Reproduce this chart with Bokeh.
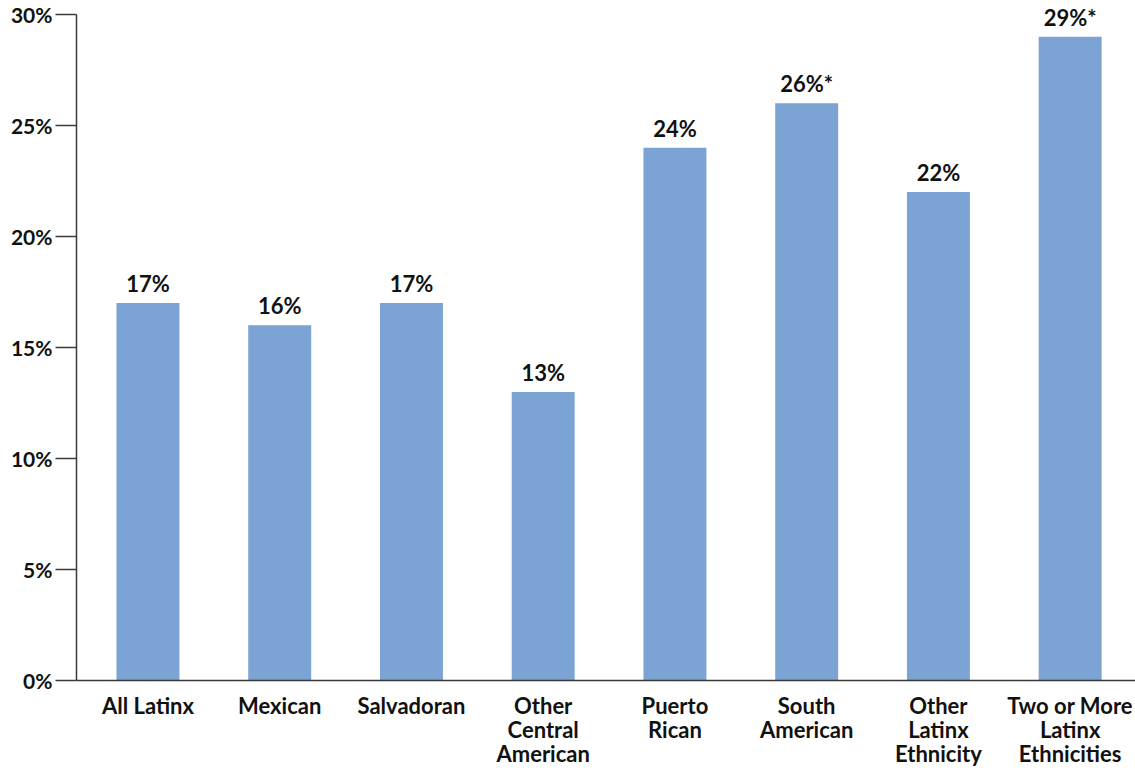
from bokeh.plotting import figure
from bokeh.models import Range1d, FixedTicker, LabelSet, ColumnDataSource
from bokeh.core.properties import value
from bokeh.embed import file_html
from bokeh.resources import INLINE

categories = ["All Latinx", "Mexican", "Salvadoran", "Other\nCentral\nAmerican",
              "Puerto\nRican", "South\nAmerican", "Other\nLatinx\nEthnicity",
              "Two or More\nLatinx\nEthnicities"]
values = [17, 16, 17, 13, 24, 26, 22, 29]
value_labels = ["17%", "16%", "17%", "13%", "24%", "26%*", "22%", "29%*"]
y_ticks = [0, 5, 10, 15, 20, 25, 30]
y_tick_labels = ["0%", "5%", "10%", "15%", "20%", "25%", "30%"]

FONT = "Lato"
BAR_COLOR = "#7BA3D4"
TEXT_COLOR = "#111111"
AXIS_COLOR = "#3a3a3a"

W, H = 1135, 770
p = figure(width=W, height=H, output_backend="svg", toolbar_location=None,
           x_range=Range1d(-0.5425, 7.496), y_range=Range1d(0, 30.63),
           min_border_left=76, min_border_right=0, min_border_top=0,
           min_border_bottom=90)
p.outline_line_color = None
p.xgrid.visible = False
p.ygrid.visible = False
p.background_fill_color = "white"
p.border_fill_color = "white"

idx = list(range(len(categories)))
src = ColumnDataSource(dict(x=idx, top=values, lab=value_labels))
p.vbar(x="x", top="top", bottom=0, width=0.478, source=src,
       fill_color=BAR_COLOR, line_color=None)

# y axis
ya = p.yaxis[0]
ya.bounds = (y_ticks[0], y_ticks[-1])
ya.ticker = FixedTicker(ticks=y_ticks)
ya.major_label_overrides = {t: l for t, l in zip(y_ticks, y_tick_labels)}
ya.major_tick_out = 21
ya.major_tick_in = 0
ya.minor_tick_line_color = None
ya.major_tick_line_width = 1.5
ya.major_tick_line_color = AXIS_COLOR
ya.axis_line_color = AXIS_COLOR
ya.axis_line_width = 1.5
ya.major_label_standoff = 3
ya.major_label_text_font = FONT
ya.major_label_text_font_size = "21px"
ya.major_label_text_font_style = "bold"
ya.major_label_text_color = TEXT_COLOR

# x axis with category labels
xa = p.xaxis[0]
xa.ticker = FixedTicker(ticks=idx)
xa.major_label_overrides = {i: c for i, c in zip(idx, categories)}
xa.major_tick_line_color = None
xa.major_tick_in = 0
xa.major_tick_out = 0
xa.minor_tick_line_color = None
xa.axis_line_color = AXIS_COLOR
xa.axis_line_width = 1.5
xa.major_label_standoff = 11
xa.major_label_text_font = FONT
xa.major_label_text_font_size = "22px"
xa.major_label_text_font_style = "bold"
xa.major_label_text_color = TEXT_COLOR
xa.major_label_text_line_height = 0.9

# value labels above bars
p.add_layout(LabelSet(x="x", y="top", text="lab", source=src, y_offset=11,
                      text_align="center", text_baseline="alphabetic",
                      text_font=value(FONT), text_font_size="22px",
                      text_font_style="bold", text_color=TEXT_COLOR))

open("out.html", "w").write(file_html(p, INLINE))
